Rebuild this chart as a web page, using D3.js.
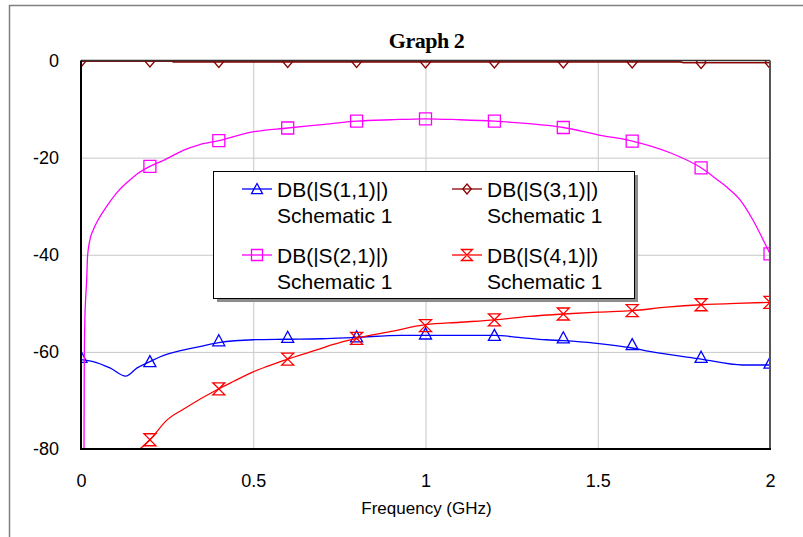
<!DOCTYPE html>
<html>
<head>
<meta charset="utf-8">
<script src="https://cdn.jsdelivr.net/npm/d3@7"></script>
<style>
  body { margin: 0; background: #fff; }
  svg { display: block; font-family: "Liberation Sans", Arial, sans-serif; }
</style>
</head>
<body>
<div class="svg-container"></div>
<script>
// marker positions (GHz)
const markerFreq = [0, 0.2, 0.4, 0.6, 0.8, 1.0, 1.2, 1.4, 1.6, 1.8, 2.0];

// DB(|S(1,1)|)
const s11Freq = [0, 0.035, 0.084, 0.13, 0.163, 0.2, 0.23, 0.28, 0.345, 0.4, 0.5, 0.6, 0.7, 0.8, 0.93, 1.0, 1.2, 1.27, 1.35, 1.4, 1.49, 1.6, 1.65, 1.8, 1.92, 2.0];
const s11Db = [-61.6, -62, -63.3, -65, -63.3, -62, -61, -59.9, -58.9, -58.1, -57.5, -57.4, -57.3, -57, -56.6, -56.6, -56.6, -57, -57.5, -57.7, -58.2, -59.2, -59.9, -61.5, -62.7, -62.7];
const s11Markers = [-61.1, -62.0, -57.7, -57.0, -56.9, -56.3, -56.6, -57.1, -58.5, -61.1, -62.3];

// DB(|S(2,1)|)
const s21Freq = [0.0087, 0.0095, 0.011, 0.0135, 0.0165, 0.019, 0.026, 0.036, 0.05, 0.075, 0.108, 0.137, 0.166, 0.2, 0.244, 0.3, 0.345, 0.4, 0.49, 0.6, 0.7, 0.8, 0.9, 1.0, 1.1, 1.2, 1.3, 1.4, 1.5, 1.6, 1.71, 1.8, 1.846, 1.88, 1.913, 1.95, 1.98, 2.0];
const s21Db = [-80, -62, -54, -49, -45.2, -40.3, -36.9, -34.8, -32.8, -30.0, -26.9, -24.9, -23.2, -21.8, -20.4, -18.4, -17.3, -16.5, -14.8, -13.9, -13.2, -12.5, -12.2, -12.0, -12.2, -12.5, -13.0, -13.8, -15.3, -16.6, -19.0, -22.1, -24.5, -26.4, -28.7, -32.8, -36.9, -39.8];
const s21Markers = [null, -21.8, -16.5, -13.9, -12.5, -12.0, -12.5, -13.8, -16.6, -22.1, -39.8];

// DB(|S(3,1)|)
const s31Freq = [0, 0.26, 0.27, 1.74, 1.75, 2.0];
const s31Db = [-0.1, -0.1, -0.3, -0.3, -0.45, -0.45];
const s31Markers = [-0.1, -0.1, -0.2, -0.2, -0.2, -0.3, -0.3, -0.3, -0.3, -0.4, -0.4];

// DB(|S(4,1)|)
const s41Freq = [0.171, 0.2, 0.25, 0.297, 0.4, 0.442, 0.5, 0.54, 0.6, 0.684, 0.73, 0.8, 0.9, 1.0, 1.1, 1.2, 1.3, 1.4, 1.5, 1.6, 1.7, 1.8, 1.9, 2.0];
const s41Db = [-80, -78.1, -74, -71.8, -67.6, -66.1, -64.1, -63, -61.5, -59.6, -58.5, -57.2, -55.8, -54.4, -53.9, -53.4, -52.7, -52.2, -51.8, -51.5, -50.8, -50.3, -50.0, -49.8];
const s41Markers = [null, -78.1, -67.6, -61.5, -57.2, -54.6, -53.4, -52.2, -51.5, -50.3, -49.8];

// axis ticks
const xTicks = [0, 0.5, 1, 1.5, 2];
const yTicks = [0, -20, -40, -60, -80];

const sourceName = 'Schematic 1';

// plot box
const plot = { left: 81, right: 770, top: 60.5, bottom: 449 };

const series = [
  { name: 'DB(|S(1,1)|)', f: s11Freq, v: s11Db, m: s11Markers, color: '#0000ff', shape: 'tri' },
  { name: 'DB(|S(2,1)|)', f: s21Freq, v: s21Db, m: s21Markers, color: '#ff00ff', shape: 'sq' },
  { name: 'DB(|S(3,1)|)', f: s31Freq, v: s31Db, m: s31Markers, color: '#8b0000', shape: 'dia' },
  { name: 'DB(|S(4,1)|)', f: s41Freq, v: s41Db, m: s41Markers, color: '#ff0000', shape: 'hour' }
];

// marker outlines
const shapes = {
  tri: s => `M0,${-s}L${s},${s * 0.85}L${-s},${s * 0.85}Z`,
  sq: s => `M${-s},${-s}H${s}V${s}H${-s}Z`,
  dia: s => `M0,${-s}L${s * 0.85},0L0,${s}L${-s * 0.85},0Z`,
  hour: s => `M${-s},${-s}H${s}L${-s},${s}H${s}Z`
};

const svg = d3.select('.svg-container')
  .append('svg')
  .attr('width', 803)
  .attr('height', 537);

const xScale = d3.scaleLinear().domain([0, 2]).range([plot.left, plot.right]);
const yScale = d3.scaleLinear().domain([-80, 0]).range([plot.bottom, plot.top]);

// plain hyphen minus, like the original
const plainNum = d => String(d);

// outer frame
svg.append('path')
  .attr('d', 'M9.5,537V5.5H803')
  .attr('fill', 'none')
  .attr('stroke', '#808080')
  .attr('stroke-width', 1.5);

// title
svg.append('text')
  .attr('x', (plot.left + plot.right) / 2 + 1)
  .attr('y', 48)
  .attr('text-anchor', 'middle')
  .attr('font-family', '"Liberation Serif", "Times New Roman", serif')
  .attr('font-weight', 'bold')
  .attr('font-size', 22)
  .attr('letter-spacing', -0.5)
  .text('Graph 2');

// grid lines
svg.append('g')
  .attr('transform', `translate(0,${plot.bottom})`)
  .call(d3.axisBottom(xScale).tickValues(xTicks.slice(1, -1)).tickSize(-(plot.bottom - plot.top)).tickFormat(''))
  .call(g => g.select('.domain').remove())
  .call(g => g.selectAll('line').attr('stroke', '#c8c8c8'));

svg.append('g')
  .attr('transform', `translate(${plot.left},0)`)
  .call(d3.axisLeft(yScale).tickValues(yTicks.slice(1, -1)).tickSize(-(plot.right - plot.left)).tickFormat(''))
  .call(g => g.select('.domain').remove())
  .call(g => g.selectAll('line').attr('stroke', '#c8c8c8'));

// tick labels
svg.append('g')
  .attr('transform', `translate(0,${plot.bottom})`)
  .call(d3.axisBottom(xScale).tickValues(xTicks).tickSize(0).tickPadding(25).tickFormat(plainNum))
  .call(g => g.select('.domain').remove())
  .call(g => g.selectAll('text').attr('font-size', 18).attr('font-family', '"Liberation Sans", Arial, sans-serif').attr('fill', '#000'));

svg.append('g')
  .attr('transform', `translate(${plot.left},0)`)
  .call(d3.axisLeft(yScale).tickValues(yTicks).tickSize(0).tickPadding(22).tickFormat(plainNum))
  .call(g => g.select('.domain').remove())
  .call(g => g.selectAll('text').attr('font-size', 18).attr('font-family', '"Liberation Sans", Arial, sans-serif').attr('fill', '#000'));

// x axis title
svg.append('text')
  .attr('x', (plot.left + plot.right) / 2 + 1)
  .attr('y', 514)
  .attr('text-anchor', 'middle')
  .attr('font-size', 17)
  .text('Frequency (GHz)');

// clip to plot box
svg.append('clipPath')
  .attr('id', 'plot-clip')
  .append('rect')
  .attr('x', plot.left)
  .attr('y', plot.top)
  .attr('width', plot.right - plot.left)
  .attr('height', plot.bottom - plot.top);

const curves = svg.append('g').attr('clip-path', 'url(#plot-clip)');

const line = d3.line()
  .x(d => xScale(d[0]))
  .y(d => yScale(d[1]))
  .curve(d3.curveMonotoneX);

series.forEach(s => {
  curves.append('path')
    .attr('d', line(s.f.map((f, i) => [f, s.v[i]])))
    .attr('fill', 'none')
    .attr('stroke', s.color)
    .attr('stroke-width', 1.3);

  curves.selectAll(null)
    .data(markerFreq.map((f, i) => [f, s.m[i]]).filter(d => d[1] !== null))
    .join('path')
    .attr('transform', d => `translate(${xScale(d[0])},${yScale(d[1])})`)
    .attr('d', shapes[s.shape](6))
    .attr('fill', 'none')
    .attr('stroke', s.color)
    .attr('stroke-width', 1.3);
});

// plot border
svg.append('line')
  .attr('x1', plot.left).attr('x2', plot.right)
  .attr('y1', plot.top).attr('y2', plot.top)
  .attr('stroke', '#333').attr('stroke-width', 1.5);
svg.append('line')
  .attr('x1', plot.right).attr('x2', plot.right)
  .attr('y1', plot.top).attr('y2', plot.bottom)
  .attr('stroke', '#555').attr('stroke-width', 2);
svg.append('line')
  .attr('x1', plot.left).attr('x2', plot.left)
  .attr('y1', plot.top).attr('y2', plot.bottom + 1)
  .attr('stroke', '#000').attr('stroke-width', 2);
svg.append('line')
  .attr('x1', plot.left).attr('x2', plot.right + 1)
  .attr('y1', plot.bottom).attr('y2', plot.bottom)
  .attr('stroke', '#000').attr('stroke-width', 2);

// re-draw the S(3,1) trace on top of the border
curves.append('path')
  .attr('d', line(s31Freq.map((f, i) => [f, s31Db[i]])))
  .attr('fill', 'none')
  .attr('stroke', '#8b0000')
  .attr('stroke-width', 1.3);

// legend
const legend = { x: 213, y: 171, w: 421, h: 127 };
svg.append('rect')
  .attr('x', legend.x + 4).attr('y', legend.y + 4)
  .attr('width', legend.w).attr('height', legend.h)
  .attr('fill', '#8c8c8c');
svg.append('rect')
  .attr('x', legend.x + 0.5).attr('y', legend.y + 0.5)
  .attr('width', legend.w).attr('height', legend.h)
  .attr('fill', '#fff')
  .attr('stroke', '#000')
  .attr('stroke-width', 1);

const legendItems = [
  { s: series[0], col: 0, row: 0 },
  { s: series[2], col: 1, row: 0 },
  { s: series[1], col: 0, row: 1 },
  { s: series[3], col: 1, row: 1 }
];
const colX = [242, 452];
const rowY = [189, 255];

legendItems.forEach(it => {
  const x0 = colX[it.col];
  const y0 = rowY[it.row];
  const g = svg.append('g');
  g.append('line')
    .attr('x1', x0).attr('x2', x0 + 30)
    .attr('y1', y0).attr('y2', y0)
    .attr('stroke', it.s.color).attr('stroke-width', 1.3);
  g.append('path')
    .attr('transform', `translate(${x0 + 15},${y0})`)
    .attr('d', shapes[it.s.shape](it.s.shape === 'dia' ? 5 : 5.5))
    .attr('fill', 'none')
    .attr('stroke', it.s.color)
    .attr('stroke-width', 1.3);
  g.append('text')
    .attr('x', x0 + 35)
    .attr('y', y0 + 8)
    .attr('font-size', 21)
    .text(it.s.name);
  g.append('text')
    .attr('x', x0 + 35)
    .attr('y', y0 + 34)
    .attr('font-size', 21)
    .text(sourceName);
});
</script>
</body>
</html>
